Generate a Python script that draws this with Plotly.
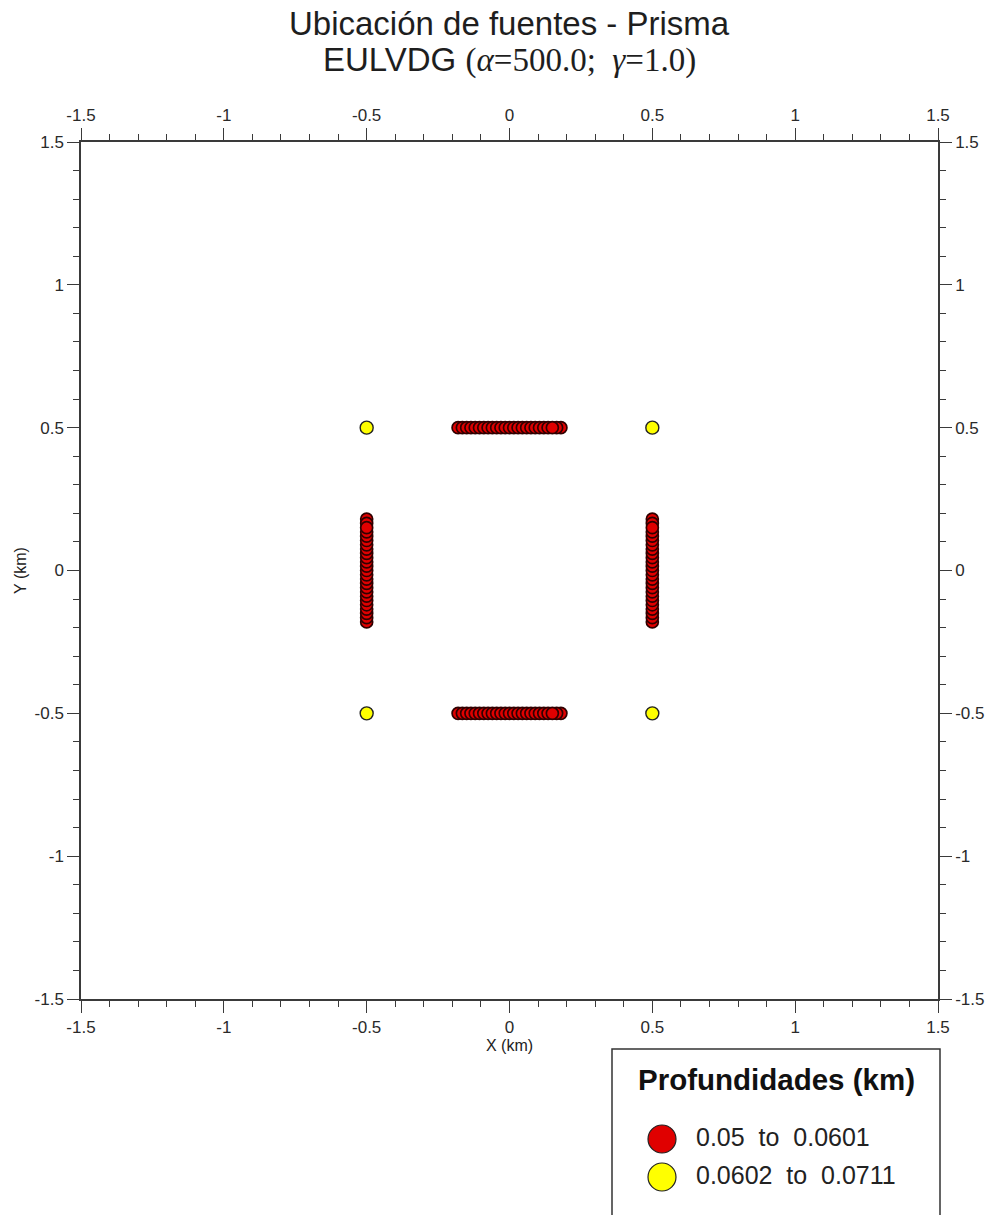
import plotly.graph_objects as go

# Source positions along each side of the prism (km)
edge_offsets = [-0.18, -0.165, -0.15, -0.135, -0.12, -0.105, -0.09, -0.075, -0.06,
                -0.045, -0.03, -0.015, 0.0, 0.015, 0.03, 0.045, 0.06, 0.075, 0.09,
                0.105, 0.12, 0.135, 0.18, 0.165, 0.15]
edge_pos = 0.5

# Corner sources (deeper solutions)
corner_x = [-0.5, 0.5, -0.5, 0.5]
corner_y = [0.5, 0.5, -0.5, -0.5]

class_labels = ["0.05\u00a0\u00a0to\u00a0\u00a00.0601", "0.0602\u00a0\u00a0to\u00a0\u00a00.0711"]
class_colors = ["#e00000", "#ffff00"]

tick_vals = [-1.5, -1, -0.5, 0, 0.5, 1, 1.5]
tick_text = ["-1.5", "-1", "-0.5", "0", "0.5", "1", "1.5"]

# Shallow sources: the four sides (top, bottom, left, right)
shallow_x, shallow_y = [], []
for side in (edge_pos, -edge_pos):
    shallow_x += edge_offsets
    shallow_y += [side] * len(edge_offsets)
for side in (-edge_pos, edge_pos):
    shallow_x += [side] * len(edge_offsets)
    shallow_y += edge_offsets

fig = go.Figure()
fig.add_trace(go.Scatter(
    x=shallow_x, y=shallow_y, mode="markers", name=class_labels[0], showlegend=False,
    marker=dict(size=12, color=class_colors[0], line=dict(color="#300000", width=1.7)),
))
fig.add_trace(go.Scatter(
    x=corner_x, y=corner_y, mode="markers", name=class_labels[1], showlegend=False,
    marker=dict(size=13, color=class_colors[1], line=dict(color="#222222", width=1.4)),
))
# Empty trace so the top and right axes are drawn with labels
fig.add_trace(go.Scatter(x=[None], y=[None], xaxis="x2", yaxis="y2",
                         showlegend=False, hoverinfo="skip"))

TICK_FONT = dict(family="Liberation Sans, Arial, sans-serif", size=17, color="#2a2a2a")
LINE_COL = "#3a3a3a"

common = dict(
    range=[-1.5, 1.5], tickmode="array", tickvals=tick_vals, ticktext=tick_text,
    ticks="outside", ticklen=12, tickwidth=1.3, tickcolor=LINE_COL,
    showline=True, linecolor=LINE_COL, linewidth=1.5, showgrid=False, zeroline=False,
    tickfont=TICK_FONT, automargin=False,
    minor=dict(dtick=0.1, tick0=0, ticks="outside", ticklen=6, tickwidth=1.1,
               tickcolor=LINE_COL, showgrid=False),
)

fig.update_layout(
    width=993, height=1215, autosize=False,
    margin=dict(l=81, r=55, t=142, b=216, autoexpand=False),
    plot_bgcolor="white", paper_bgcolor="white",
    font=dict(family="Liberation Sans, Arial, sans-serif", color="#222222"),
    xaxis=dict(**common, title=dict(text="X (km)", font=dict(size=16), standoff=4)),
    yaxis=dict(**common, scaleanchor="x", scaleratio=1,
               title=dict(text="Y (km)", font=dict(size=16), standoff=4)),
    xaxis2=dict(**common, overlaying="x", side="top", anchor="y", matches="x"),
    yaxis2=dict(**common, overlaying="y", side="right", anchor="x", matches="y"),
)

px = 857.0
def pxx(v):
    return (v - 81) / px
def pxy(v):
    return (999 - v) / px

# Two-line heading
fig.add_annotation(xref="paper", yref="paper", x=0.5, y=pxy(23),
                   text="Ubicación de fuentes - Prisma", showarrow=False,
                   xanchor="center", yanchor="middle",
                   font=dict(size=33, color="#1e1e1e"))
fig.add_annotation(xref="paper", yref="paper", x=0.5, y=pxy(60),
                   text="EULVDG <span style='font-family:Liberation Serif, serif'>"
                        "(<i>α</i>=500.0;\u00a0\u00a0<i>γ</i>=1.0)</span>",
                   showarrow=False, xanchor="center", yanchor="middle",
                   font=dict(size=33, color="#1e1e1e"))

# Depth-class key below the map
fig.add_shape(type="rect", xref="paper", yref="paper",
              x0=pxx(612), x1=pxx(940), y0=pxy(1049), y1=pxy(1400),
              line=dict(color="#333333", width=1.5), fillcolor="white")
fig.add_annotation(xref="paper", yref="paper", x=pxx(776), y=pxy(1079),
                   text="<b>Profundidades (km)</b>", showarrow=False,
                   xanchor="center", yanchor="middle",
                   font=dict(size=29.5, color="#111111"))
for label, color, cy in zip(class_labels, class_colors, [1139, 1177]):
    r = 14
    fig.add_shape(type="circle", xref="paper", yref="paper",
                  x0=pxx(662 - r), x1=pxx(662 + r), y0=pxy(cy + r), y1=pxy(cy - r),
                  fillcolor=color, line=dict(color="#222222", width=1.2))
    fig.add_annotation(xref="paper", yref="paper", x=pxx(694), y=pxy(cy - 2),
                       text=label, showarrow=False, xanchor="left", yanchor="middle",
                       font=dict(size=25, color="#222222"))

fig.write_html("out.html")
